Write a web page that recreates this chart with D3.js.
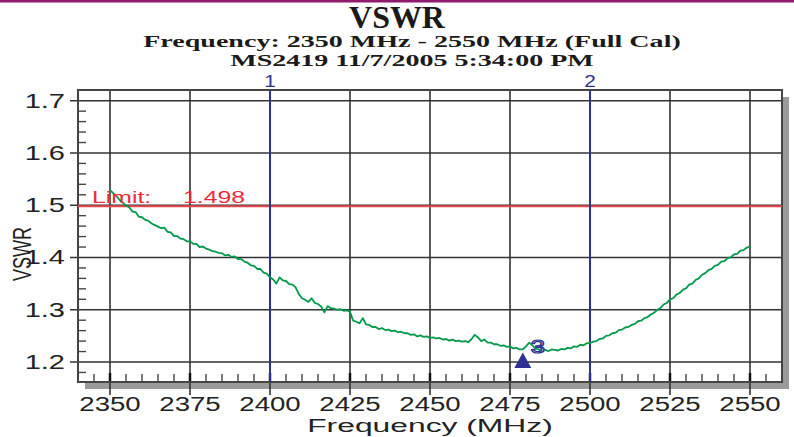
<!DOCTYPE html>
<html>
<head>
<meta charset="utf-8">
<script src="https://cdn.jsdelivr.net/npm/d3@7"></script>
<style>
  html, body { margin: 0; padding: 0; background: #fff; }
  svg { display: block; }
</style>
</head>
<body>
<svg id="chart" width="794" height="437"></svg>
<script>
// Sweep settings and measured VSWR trace (one reading per MHz)
const sweepStart = 2350;
const sweepStep = 1;
const vswr = [
  // 2350
  1.529, 1.523, 1.518, 1.510, 1.505, 1.499, 1.496, 1.488, 1.487, 1.478,
  // 2360
  1.477, 1.472, 1.470, 1.465, 1.462, 1.459, 1.456, 1.457, 1.449, 1.448,
  // 2370
  1.441, 1.441, 1.436, 1.435, 1.431, 1.431, 1.426, 1.426, 1.420, 1.421,
  // 2380
  1.417, 1.415, 1.412, 1.411, 1.409, 1.408, 1.404, 1.405, 1.401, 1.402,
  // 2390
  1.397, 1.397, 1.392, 1.390, 1.385, 1.384, 1.378, 1.378, 1.371, 1.369,
  // 2400
  1.362, 1.358, 1.350, 1.362, 1.356, 1.355, 1.349, 1.348, 1.343, 1.330,
  // 2410
  1.322, 1.319, 1.315, 1.322, 1.313, 1.311, 1.306, 1.295, 1.307, 1.303,
  // 2420
  1.302, 1.300, 1.301, 1.298, 1.299, 1.296, 1.279, 1.277, 1.274, 1.284,
  // 2430
  1.272, 1.271, 1.267, 1.267, 1.263, 1.265, 1.261, 1.262, 1.259, 1.260,
  // 2440
  1.257, 1.258, 1.255, 1.255, 1.252, 1.253, 1.249, 1.251, 1.248, 1.249,
  // 2450
  1.246, 1.247, 1.245, 1.246, 1.243, 1.244, 1.241, 1.243, 1.240, 1.241,
  // 2460
  1.239, 1.240, 1.238, 1.244, 1.252, 1.247, 1.240, 1.243, 1.237, 1.237,
  // 2470
  1.234, 1.234, 1.231, 1.232, 1.229, 1.230, 1.226, 1.227, 1.224, 1.224,
  // 2480
  1.230, 1.237, 1.232, 1.225, 1.224, 1.221, 1.223, 1.221, 1.224, 1.223,
  // 2490
  1.222, 1.225, 1.224, 1.227, 1.226, 1.230, 1.229, 1.233, 1.232, 1.236,
  // 2500
  1.236, 1.239, 1.240, 1.244, 1.245, 1.250, 1.251, 1.255, 1.256, 1.261,
  // 2510
  1.262, 1.266, 1.267, 1.271, 1.273, 1.278, 1.279, 1.284, 1.286, 1.291,
  // 2520
  1.294, 1.300, 1.303, 1.310, 1.313, 1.320, 1.322, 1.329, 1.332, 1.338,
  // 2530
  1.341, 1.348, 1.350, 1.357, 1.360, 1.367, 1.370, 1.376, 1.378, 1.384,
  // 2540
  1.386, 1.392, 1.393, 1.399, 1.400, 1.406, 1.407, 1.413, 1.414, 1.419,
  // 2550
  1.421
];

const xTicks = [2350, 2375, 2400, 2425, 2450, 2475, 2500, 2525, 2550];
const yTicks = [1.2, 1.3, 1.4, 1.5, 1.6, 1.7];
const limitValue = 1.498;
const markerFreqs = [2400, 2500];
const markerNames = ["1", "2"];
const minMarkerFreq = 2479;
const minMarkerName = "3";

const titleText = "VSWR";
const subtitleText = "Frequency: 2350 MHz - 2550 MHz (Full Cal)";
const stampText = "MS2419 11/7/2005 5:34:00 PM";
const xTitle = "Frequency (MHz)";
const yTitle = "VSWR";

const svg = d3.select("#chart");
const W = 794, H = 437;
const frame = { left: 78, right: 782, top: 90, bottom: 382 };

const x = d3.scaleLinear().domain([2350, 2550]).range([110, 750]);
const y = d3.scaleLinear().domain([1.2, 1.7]).range([362, 100.7]);

const sans = "'Liberation Sans', Arial, Helvetica, sans-serif";
const serif = "'Liberation Serif', 'Times New Roman', serif";

// text drawn with a horizontal widening factor sx
function wideText(g, tx, ty, str, opts) {
  return g.append("g").attr("transform", `translate(${tx},${ty}) scale(${opts.sx},1)`)
    .append("text")
    .attr("x", 0).attr("y", 0)
    .attr("text-anchor", opts.anchor || "middle")
    .attr("font-family", opts.family || sans)
    .attr("font-size", opts.size)
    .attr("font-weight", opts.weight || "normal")
    .attr("fill", opts.fill || "#222")
    .text(str);
}

// top rule
svg.append("rect").attr("x", 0).attr("y", 0).attr("width", W).attr("height", 2.5).attr("fill", "#8e1b6e");

// titles
wideText(svg, 397, 28, titleText, { family: serif, size: 31, weight: "bold", sx: 1.03, fill: "#1a1a1a" });
wideText(svg, 412, 47, subtitleText, { family: serif, size: 16.5, weight: "bold", sx: 1.7, fill: "#1a1a1a" });
wideText(svg, 412, 65.5, stampText, { family: serif, size: 16.5, weight: "bold", sx: 1.7, fill: "#1a1a1a" });

// drop shadow of the plot frame
svg.append("rect").attr("x", frame.left + 7).attr("y", frame.top + 7)
  .attr("width", frame.right - frame.left).attr("height", frame.bottom - frame.top)
  .attr("fill", "#9a9a9a");
svg.append("rect").attr("x", frame.left).attr("y", frame.top)
  .attr("width", frame.right - frame.left).attr("height", frame.bottom - frame.top)
  .attr("fill", "#fff");

const plot = svg.append("g");

// minor ticks
const yMinor = d3.range(59, 87).map(i => i / 50).filter(v => !yTicks.some(t => Math.abs(t - v) < 1e-6));
plot.selectAll(".ymin").data(yMinor).join("line")
  .attr("x1", frame.left).attr("x2", frame.left + 8)
  .attr("y1", d => y(d)).attr("y2", d => y(d))
  .attr("stroke", "#444").attr("stroke-width", 1.4);

const xMinor = d3.range(2345, 2561, 5).filter(v => !xTicks.includes(v));
plot.selectAll(".xmin").data(xMinor).join("line")
  .attr("x1", d => x(d)).attr("x2", d => x(d))
  .attr("y1", frame.bottom).attr("y2", frame.bottom - 8)
  .attr("stroke", "#444").attr("stroke-width", 1.4);

// grid + major ticks
plot.selectAll(".vg").data(xTicks).join("line")
  .attr("x1", d => x(d)).attr("x2", d => x(d))
  .attr("y1", frame.top).attr("y2", frame.bottom + 13)
  .attr("stroke", "#333").attr("stroke-width", 1.6);
plot.selectAll(".vgt").data(xTicks).join("line")
  .attr("x1", d => x(d)).attr("x2", d => x(d))
  .attr("y1", frame.bottom - 9).attr("y2", frame.bottom)
  .attr("stroke", "#111").attr("stroke-width", 2.5);
plot.selectAll(".hg").data(yTicks).join("line")
  .attr("x1", frame.left - 8).attr("x2", frame.right)
  .attr("y1", d => y(d)).attr("y2", d => y(d))
  .attr("stroke", "#333").attr("stroke-width", 1.6);

// frame
plot.append("rect").attr("x", frame.left).attr("y", frame.top)
  .attr("width", frame.right - frame.left).attr("height", frame.bottom - frame.top)
  .attr("fill", "none").attr("stroke", "#444").attr("stroke-width", 2);

// limit line
plot.append("line").attr("x1", frame.left).attr("x2", frame.right)
  .attr("y1", y(limitValue)).attr("y2", y(limitValue))
  .attr("stroke", "#e8474c").attr("stroke-width", 2);
wideText(svg, 92, 203, "Limit:", { size: 16, anchor: "start", fill: "#ee2b3b", sx: 1.55 });
wideText(svg, 183, 203, d3.format(".3f")(limitValue), { size: 16, anchor: "start", fill: "#ee2b3b", sx: 1.55 });

// marker lines
plot.selectAll(".mk").data(markerFreqs).join("line")
  .attr("x1", d => x(d)).attr("x2", d => x(d))
  .attr("y1", frame.top).attr("y2", frame.bottom)
  .attr("stroke", "#2e3192").attr("stroke-width", 2);
markerFreqs.forEach((f, i) => {
  wideText(svg, x(f), 87, markerNames[i], { size: 16, fill: "#2e3192", sx: 1.3 });
});

// trace
const trace = vswr.map((v, i) => [sweepStart + i * sweepStep, v]);
plot.append("path").datum(trace)
  .attr("fill", "none").attr("stroke", "#009a4a").attr("stroke-width", 1.8)
  .attr("stroke-linejoin", "round")
  .attr("d", d3.line().x(d => x(d[0])).y(d => y(d[1])));

// minimum marker
const mIdx = Math.round((minMarkerFreq - sweepStart) / sweepStep);
const mx = x(minMarkerFreq), my = y(vswr[mIdx]) + 3;
plot.append("path")
  .attr("d", `M${mx},${my} L${mx + 8.5},${my + 15.5} L${mx - 8.5},${my + 15.5} Z`)
  .attr("fill", "#2e3192");
wideText(svg, mx + 15, my + 1, minMarkerName, { size: 19, fill: "#fff", sx: 1.35 })
  .attr("stroke", "#2e3192").attr("stroke-width", 1.2);

// axis labels
xTicks.forEach(t => {
  wideText(svg, x(t), 411, String(t), { size: 20, sx: 1.38 });
});
yTicks.forEach(t => {
  wideText(svg, 65, y(t) + 7, d3.format(".1f")(t), { size: 20, anchor: "end", sx: 1.45 });
});
wideText(svg, 430, 432, xTitle, { size: 18.5, sx: 1.72 });
svg.append("g").attr("transform", "translate(31,254) rotate(-90) scale(1,1.45)")
  .append("text").attr("text-anchor", "middle")
  .attr("font-family", sans).attr("font-size", 18).attr("fill", "#222")
  .text(yTitle);
</script>
</body>
</html>
